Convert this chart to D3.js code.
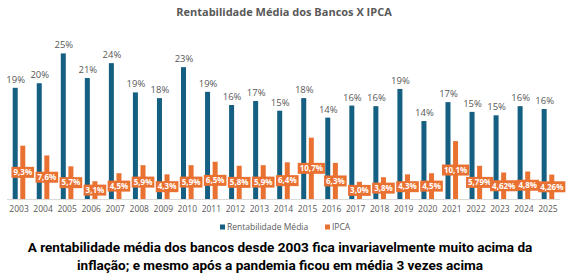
<!DOCTYPE html>
<html>
<head>
<meta charset="utf-8">
<script src="https://cdn.jsdelivr.net/npm/d3@7"></script>
<style>
  body { margin: 0; background: #fff; }
  svg { display: block; }
</style>
</head>
<body>
<div class="container"></div>
<script>
var width = 567;
var height = 280;

var years = ['2003', '2004', '2005', '2006', '2007', '2008', '2009', '2010', '2011', '2012', '2013', '2014',
    '2015', '2016', '2017', '2018', '2019', '2020', '2021', '2022', '2023', '2024', '2025'];
var rentabilidade = [19.4, 20.2, 25.4, 21.1, 23.7, 18.6, 17.6, 23.0, 18.7, 16.4, 17.1, 15.4,
    17.6, 14.2, 16.3, 16.2, 19.2, 13.6, 16.9, 15.2, 14.6, 16.2, 15.7];
var rentLabels = ['19%', '20%', '25%', '21%', '24%', '19%', '18%', '23%', '19%', '16%', '17%', '15%',
    '18%', '14%', '16%', '16%', '19%', '14%', '17%', '15%', '15%', '16%', '16%'];
var ipca = [9.3, 7.6, 5.7, 3.1, 4.5, 5.9, 4.3, 5.9, 6.5, 5.8, 5.9, 6.4,
    10.7, 6.3, 3.0, 3.8, 4.3, 4.5, 10.1, 5.79, 4.62, 4.8, 4.26];
var ipcaLabels = ['9,3%', '7,6%', '5,7%', '3,1%', '4,5%', '5,9%', '4,3%', '5,9%', '6,5%', '5,8%', '5,9%', '6,4%',
    '10,7%', '6,3%', '3,0%', '3,8%', '4,3%', '4,5%', '10,1%', '5,79%', '4,62%', '4,8%', '4,26%'];
var seriesNames = ['Rentabilidade Média', 'IPCA'];
var colors = ['#156082', '#E97132'];

var title = 'Rentabilidade Média dos Bancos X IPCA';
var caption = ['A rentabilidade média dos bancos desde 2003 fica invariavelmente muito acima da',
    'inflação; e mesmo após a pandemia ficou em média 3 vezes acima'];

var baseY = 199;
var font = "'Open Sans', sans-serif";

var XScale = d3.scaleBand()
    .domain(years)
    .range([7, 560]);

var SubScale = d3.scaleBand()
    .domain(['r', 'i'])
    .range([5.7, 18.3])
    .paddingInner(0.34);

var YScale = d3.scaleLinear()
    .domain([0, 25])
    .range([baseY, 55.7]);

var svg = d3.select('.container').append('svg')
    .attr('width', width)
    .attr('height', height);

svg.append('text')
    .attr('x', 284)
    .attr('y', 16)
    .attr('text-anchor', 'middle')
    .style('font-family', font)
    .style('font-weight', 700)
    .style('font-size', '11px')
    .style('fill', '#595959')
    .text(title);

// baseline
svg.append('line')
    .attr('x1', XScale.range()[0])
    .attr('x2', XScale.range()[1])
    .attr('y1', baseY + 0.5)
    .attr('y2', baseY + 0.5)
    .style('stroke', '#d9d9d9')
    .style('stroke-width', 1);

var xAxis = d3.axisBottom(XScale).tickSize(0).tickPadding(7);
var gx = svg.append('g')
    .attr('transform', 'translate(0,' + baseY + ')')
    .call(xAxis);
gx.select('.domain').remove();
gx.selectAll('text')
    .style('font-family', font)
    .style('font-size', '8.5px')
    .style('fill', '#595959');

var groups = svg.selectAll('.year')
    .data(years)
    .enter().append('g')
    .attr('class', 'year')
    .attr('transform', function(d) { return 'translate(' + XScale(d) + ',0)'; });

groups.append('rect')
    .attr('x', SubScale('r'))
    .attr('width', SubScale.bandwidth())
    .attr('y', function(d, i) { return YScale(rentabilidade[i]); })
    .attr('height', function(d, i) { return baseY - YScale(rentabilidade[i]); })
    .style('fill', colors[0]);

groups.append('rect')
    .attr('x', SubScale('i'))
    .attr('width', SubScale.bandwidth())
    .attr('y', function(d, i) { return YScale(ipca[i]); })
    .attr('height', function(d, i) { return baseY - YScale(ipca[i]); })
    .style('fill', colors[1]);

groups.append('text')
    .attr('x', SubScale('r') + SubScale.bandwidth() / 2 + 0.5)
    .attr('y', function(d, i) { return YScale(rentabilidade[i]) - 5; })
    .attr('text-anchor', 'middle')
    .style('font-family', font)
    .style('font-size', '9.5px')
    .style('fill', '#595959')
    .text(function(d, i) { return rentLabels[i]; });

// ipca labels with orange box, centred in the bar
var ipcaLab = groups.append('g')
    .attr('transform', function(d, i) {
        var cx = SubScale('i') + SubScale.bandwidth() / 2;
        var cy = (YScale(ipca[i]) + baseY) / 2;
        return 'translate(' + cx + ',' + cy + ')';
    });

ipcaLab.append('text')
    .attr('text-anchor', 'middle')
    .attr('dy', '0.35em')
    .style('font-family', font)
    .style('font-weight', 700)
    .style('font-size', '8px')
    .style('fill', '#fff')
    .text(function(d, i) { return ipcaLabels[i]; });

ipcaLab.each(function() {
    var g = d3.select(this);
    var w = g.select('text').node().getComputedTextLength();
    g.insert('rect', 'text')
        .attr('x', -w / 2 - 2)
        .attr('y', -5.5)
        .attr('width', w + 4)
        .attr('height', 11)
        .style('fill', colors[1]);
});

// legend
var legend = svg.append('g').attr('transform', 'translate(220,227)');
var legX = [0, 105];
seriesNames.forEach(function(name, i) {
    var item = legend.append('g').attr('transform', 'translate(' + legX[i] + ',0)');
    item.append('rect')
        .attr('x', 0)
        .attr('y', -2.5)
        .attr('width', 5)
        .attr('height', 5)
        .style('fill', colors[i]);
    item.append('text')
        .attr('x', 7)
        .attr('dy', '0.35em')
        .style('font-family', font)
        .style('font-size', '8.5px')
        .style('fill', '#595959')
        .text(name);
});

// caption: two centred lines, font size fitted to the first line's width
var capY = [252, 270];
var capText = caption.map(function(line, i) {
    return svg.append('text')
        .attr('x', 280)
        .attr('y', capY[i])
        .attr('text-anchor', 'middle')
        .style('font-family', 'Roboto, sans-serif')
        .style('font-weight', 700)
        .style('font-size', '13px')
        .style('fill', '#000')
        .text(line);
});
var capSize = 13 * 505 / capText[0].node().getComputedTextLength();
capText.forEach(function(t) { t.style('font-size', capSize + 'px'); });
</script>
</body>
</html>
